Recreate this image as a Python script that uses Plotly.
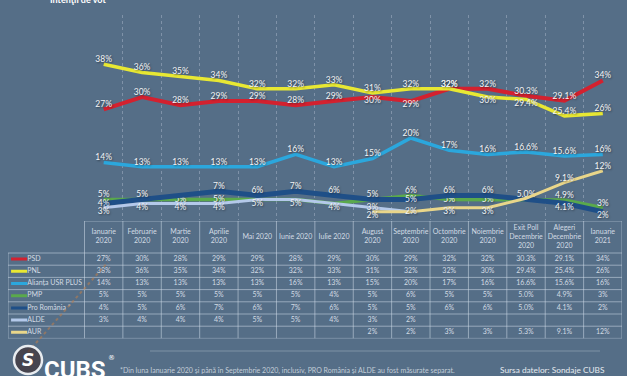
import plotly.graph_objects as go

W, H = 627, 376

months = ["Ianuarie<br>2020", "Februarie<br>2020", "Martie<br>2020", "Aprilie<br>2020",
          "Mai 2020", "Iunie 2020", "Iulie 2020", "August<br>2020", "Septembrie<br>2020",
          "Octombrie<br>2020", "Noiembrie<br>2020", "Exit Poll<br>Decembrie<br>2020",
          "Alegeri<br>Decembrie<br>2020", "Ianuarie<br>2021"]

parties = ["PSD", "PNL", "Alianța USR PLUS", "PMP", "Pro România *", "ALDE", "AUR"]

psd  = [27, 30, 28, 29, 29, 28, 29, 30, 29, 32, 32, 30.3, 29.1, 34]
pnl  = [38, 36, 35, 34, 32, 32, 33, 31, 32, 32, 30, 29.4, 25.4, 26]
usr  = [14, 13, 13, 13, 13, 16, 13, 15, 20, 17, 16, 16.6, 15.6, 16]
pmp  = [5, 5, 5, 5, 5, 5, 4, 5, 6, 5, 5, 5.0, 4.9, 3]
pro  = [4, 5, 6, 7, 6, 7, 6, 5, 5, 6, 6, 5.0, 4.1, 2]
alde = [3, 4, 4, 4, 5, 5, 4, 3, 2, None, None, None, None, None]
aur  = [None, None, None, None, None, None, None, 2, 2, 3, 3, 5.3, 9.1, 12]

series = [psd, pnl, usr, pmp, pro, alde, aur]
colors = ["#d3212f", "#e8e833", "#2ba7dd", "#5aa94c", "#1f4f87", "#b4c9ea", "#e9d68a"]
widths = [4, 3.5, 3.5, 3.5, 5, 3, 3]
onedec = {11, 12}

T, M, B, N = "top center", "middle center", "bottom center", None
positions = [
    [T, T, T, T, T, T, T, B, B, T, T, T, T, T],
    [T, T, T, T, T, T, T, T, T, T, B, B, T, T],
    [T] * 14,
    [T, N, M, M, N, N, N, N, T, M, M, N, T, T],
    [M, T, N, T, T, T, T, T, M, T, T, T, B, B],
    [B, B, B, B, B, B, B, M, N, N, N, N, N, N],
    [N, N, N, N, N, N, N, B, M, B, B, N, T, T],
]


def fmt(v, i):
    if v is None:
        return ""
    return f"{v:.1f}%" if i in onedec else f"{v:.0f}%"


def px(x):
    return x / W


def py(y):
    return 1 - y / H


BG = "#556e87"
GRID = "rgba(205,218,232,0.55)"
TXT = "#d3dbe4"
FONT = "Lato"
nm, npy = len(months), len(parties)
x = list(range(nm))

fig = go.Figure()
for name, vals, col, w, pos in zip(parties, series, colors, widths, positions):
    txt = [fmt(v, i) if pos[i] else "" for i, v in enumerate(vals)]
    tp = [p if p else "top center" for p in pos]
    fig.add_trace(go.Scatter(
        x=x, y=vals, mode="lines+text", name=name,
        line=dict(color=col, width=w),
        text=txt, textposition=tp, cliponaxis=False,
        textfont=dict(family=FONT, size=8.5, color="#f2f4f6",
                      shadow="1px 1px 2px rgba(0,0,0,0.45)"),
        showlegend=False, hoverinfo="skip"))

# ---------- data table drawn on its own axes (x2 / y2) ----------
TABLE_TOP, HEADER_H, ROW_H = 221, 32, 12.2
COLW = (622 - 84.5) / nm
x2_left = -0.5 - (84.5 - 8) / COLW
y_head = -0.5 - HEADER_H / ROW_H
table_bottom = TABLE_TOP + HEADER_H + ROW_H * npy

fig.add_trace(go.Scatter(
    x=x, y=[(y_head - 0.5) / 2] * nm, mode="text", text=months,
    textfont=dict(family=FONT, size=7, color=TXT), xaxis="x2", yaxis="y2",
    showlegend=False, hoverinfo="skip"))
for k, s in enumerate(series):
    fig.add_trace(go.Scatter(
        x=x, y=[k] * nm, mode="text", text=[fmt(v, i) for i, v in enumerate(s)],
        textfont=dict(family=FONT, size=7, color=TXT), xaxis="x2", yaxis="y2",
        showlegend=False, hoverinfo="skip"))
fig.add_trace(go.Scatter(
    x=[x2_left + 0.5] * npy, y=list(range(npy)), mode="text", text=parties,
    textposition="middle right",
    textfont=dict(family=FONT, size=7, color=TXT), xaxis="x2", yaxis="y2",
    showlegend=False, hoverinfo="skip"))

shapes = []
lw = dict(color=GRID, width=1)
for r in range(npy + 1):
    shapes.append(dict(type="line", xref="x2", yref="y2", x0=x2_left, x1=nm - 0.5,
                       y0=r - 0.5, y1=r - 0.5, line=lw))
shapes.append(dict(type="line", xref="x2", yref="y2", x0=-0.5, x1=nm - 0.5,
                   y0=y_head, y1=y_head, line=lw))
for c in range(nm + 1):
    shapes.append(dict(type="line", xref="x2", yref="y2", x0=c - 0.5, x1=c - 0.5,
                       y0=y_head, y1=npy - 0.5, line=lw))
shapes.append(dict(type="line", xref="x2", yref="y2", x0=x2_left, x1=x2_left,
                   y0=-0.5, y1=npy - 0.5, line=lw))
for k, c in enumerate(colors):
    shapes.append(dict(type="line", xref="x2", yref="y2", x0=x2_left + 0.08, x1=x2_left + 0.5,
                       y0=k, y1=k, line=dict(color=c, width=3)))

shapes += [
    dict(type="line", xref="paper", yref="paper", x0=px(150), x1=px(600), y0=py(351), y1=py(351),
         line=dict(color="rgba(200,212,226,0.35)", width=1)),
    dict(type="line", xref="paper", yref="paper", x0=px(28), x1=px(108), y0=py(352), y1=py(262),
         line=dict(color="rgba(175,125,85,0.65)", width=2, dash="dot")),
    dict(type="circle", xref="paper", yref="paper", x0=px(14), x1=px(42), y0=py(374), y1=py(346),
         line=dict(color="#e8ecf0", width=2.5), fillcolor="rgba(60,40,40,0.6)"),
]

annotations = [
    dict(text="<b>Intenţii de vot</b>", x=px(48), y=py(-1), xref="paper", yref="paper",
         xanchor="left", yanchor="middle", showarrow=False,
         font=dict(family=FONT, size=9, color="#ffffff")),
    dict(text="<b><i>S</i></b>", x=px(28), y=py(360), xref="paper", yref="paper",
         xanchor="center", yanchor="middle", showarrow=False,
         font=dict(family="DejaVu Sans", size=17, color="#ffffff")),
    dict(text="<b>CUBS</b>", x=px(42), y=py(354), xref="paper", yref="paper",
         xanchor="left", yanchor="top", showarrow=False,
         font=dict(family="Roboto", size=24, color="#ffffff")),
    dict(text="®", x=px(106), y=py(358), xref="paper", yref="paper",
         xanchor="left", yanchor="middle", showarrow=False,
         font=dict(family="DejaVu Sans", size=7, color="#ffffff")),
    dict(text="*Din luna Ianuarie 2020 și până în Septembrie 2020, inclusiv, PRO România și ALDE au fost măsurate separat.",
         x=px(118), y=py(370), xref="paper", yref="paper", xanchor="left", yanchor="middle",
         showarrow=False, font=dict(family=FONT, size=7, color="#c3cdd8")),
    dict(text="Sursa datelor: Sondaje CUBS", x=px(498), y=py(370), xref="paper", yref="paper",
         xanchor="left", yanchor="middle", showarrow=False,
         font=dict(family=FONT, size=8.3, color="#e6ebf0")),
]

fig.update_layout(
    width=W, height=H, margin=dict(l=0, r=0, t=0, b=0),
    paper_bgcolor=BG, plot_bgcolor=BG,
    xaxis=dict(domain=[px(84.5), px(622)], range=[-0.5, nm - 0.5],
               tickvals=[i - 0.5 for i in range(nm + 1)], ticktext=[""] * (nm + 1),
               showgrid=True, gridcolor="rgba(205,215,230,0.35)", griddash="dot", gridwidth=1,
               zeroline=False, showline=False, ticks="", fixedrange=True),
    yaxis=dict(domain=[py(220), py(15)], range=[0, 50], showgrid=False, zeroline=False,
               showticklabels=False, showline=False, fixedrange=True),
    xaxis2=dict(domain=[px(8), px(622)], range=[x2_left, nm - 0.5], anchor="y2",
                visible=False, fixedrange=True),
    yaxis2=dict(domain=[py(table_bottom), py(TABLE_TOP)], range=[npy - 0.5, y_head], anchor="x2",
                visible=False, fixedrange=True),
    shapes=shapes, annotations=annotations,
)

fig.write_html("out.html", config={"displayModeBar": False},
               post_script="document.body.style.margin='0';")
